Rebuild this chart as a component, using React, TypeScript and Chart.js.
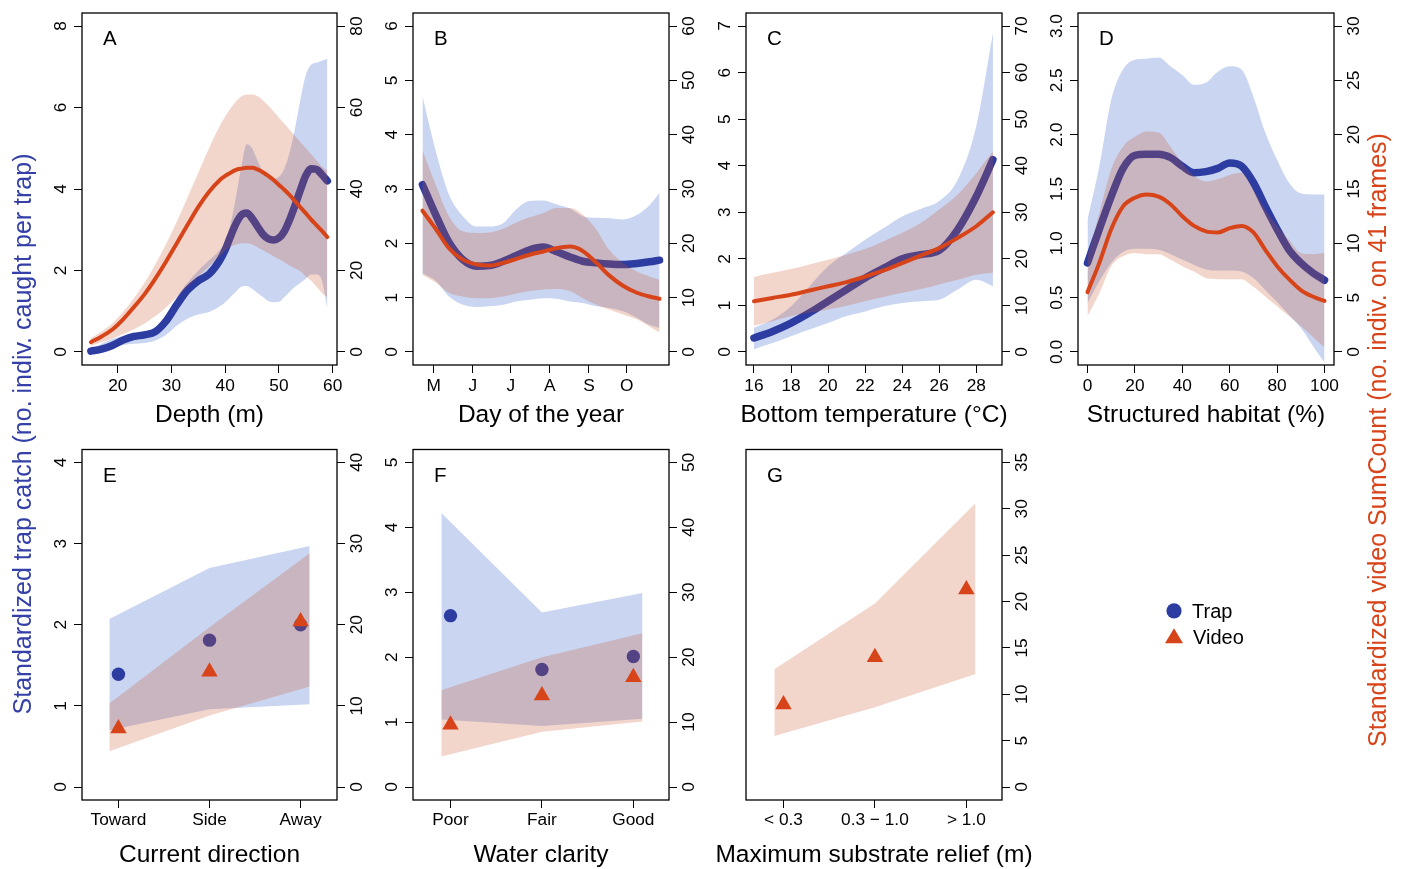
import React, { useEffect, useRef } from 'react';
import { Chart, registerables } from 'chart.js';

Chart.register(...registerables);

const FONT = '"Liberation Sans", Arial, Helvetica, sans-serif';
const TRAP = 'rgb(44,60,160)';
const TRAP_TEXT = 'rgb(52,64,168)';
const TRAP_BAND = 'rgb(201,213,241)';
const VIDEO = 'rgb(216,68,25)';
const VIDEO_BAND = 'rgba(203,87,47,0.25)';
const TICK_SIZE = 17.3;

// ---------- Panel A: depth ----------
const A_depth = [15, 17, 19, 21, 23, 25, 27, 29, 31, 33, 35, 37, 39, 40, 41, 42, 43, 44, 45, 46, 47, 48, 49, 50, 51, 52, 53, 54, 55, 56, 57, 58, 59];
const A_trap = [0.02, 0.07, 0.16, 0.29, 0.38, 0.42, 0.5, 0.76, 1.16, 1.52, 1.75, 1.91, 2.25, 2.51, 2.84, 3.15, 3.36, 3.41, 3.28, 3.08, 2.89, 2.78, 2.75, 2.8, 2.96, 3.25, 3.6, 3.98, 4.33, 4.5, 4.48, 4.35, 4.2];
const A_trapLo = [0.0, 0.06, 0.12, 0.17, 0.2, 0.22, 0.28, 0.42, 0.65, 0.82, 0.92, 0.98, 1.12, 1.22, 1.35, 1.48, 1.6, 1.62, 1.55, 1.45, 1.35, 1.25, 1.22, 1.23, 1.35, 1.48, 1.6, 1.7, 1.8, 1.9, 1.9, 1.75, 1.05];
const A_trapHi = [0.06, 0.2, 0.32, 0.4, 0.45, 0.5, 0.6, 0.9, 1.35, 1.7, 2.0, 2.25, 2.5, 2.72, 3.15, 3.8, 4.55, 5.1, 5.0, 4.7, 4.45, 4.3, 4.25, 4.3, 4.5, 4.9, 5.5, 6.2, 6.8, 7.05, 7.1, 7.15, 7.2];
const A_video = [2.4, 3.8, 5.5, 8.0, 11.0, 14.2, 18.0, 22.2, 26.7, 31.2, 35.6, 39.3, 42.2, 43.2, 44.0, 44.7, 45.0, 45.2, 45.2, 44.8, 44.1, 43.2, 42.2, 41.0, 39.8, 38.5, 37.0, 35.5, 34.0, 32.5, 31.1, 29.7, 28.2];
const A_videoLo = [1.5, 2.4, 3.3, 4.4, 5.6, 7.0, 8.8, 11.0, 13.5, 16.0, 18.5, 21.0, 23.5, 24.8, 25.8, 26.4, 26.7, 26.7, 26.4, 25.7, 25.0, 24.2, 23.5, 22.8, 22.0, 21.2, 20.5, 19.8, 18.5, 17.5, 16.0, 14.5, 13.5];
const A_videoHi = [3.3, 5.0, 7.0, 9.8, 13.2, 17.0, 21.5, 26.5, 32.0, 38.0, 44.0, 50.0, 55.5, 57.8, 59.8, 61.5, 62.7, 63.2, 63.2, 62.8, 61.8, 60.5, 59.0, 57.5, 56.0, 54.5, 53.0, 51.5, 50.0, 48.5, 47.0, 45.5, 44.5];
const A_xTicks = [20, 30, 40, 50, 60];
const A_trapTicks = [0, 2, 4, 6, 8];
const A_videoTicks = [0, 20, 40, 60, 80];

// ---------- Panel B: day of year ----------
const B_day = [112, 123, 133, 144, 155, 165, 176, 186, 197, 208, 218, 229, 239, 250, 260, 271, 282, 292, 300];
const B_trap = [3.08, 2.5, 2.02, 1.7, 1.58, 1.59, 1.67, 1.77, 1.88, 1.93, 1.85, 1.75, 1.67, 1.64, 1.62, 1.61, 1.63, 1.66, 1.69];
const B_trapLo = [1.45, 1.3, 1.02, 0.87, 0.83, 0.84, 0.87, 0.93, 0.96, 0.99, 0.98, 0.93, 0.9, 0.84, 0.81, 0.75, 0.63, 0.5, 0.44];
const B_trapHi = [4.71, 3.66, 2.9, 2.5, 2.31, 2.31, 2.37, 2.62, 2.78, 2.79, 2.72, 2.64, 2.5, 2.47, 2.46, 2.44, 2.52, 2.7, 2.93];
const B_video = [26.0, 22.5, 19.1, 17.0, 16.1, 15.9, 16.4, 17.1, 17.9, 18.5, 19.1, 19.4, 18.6, 16.4, 14.1, 12.2, 10.9, 10.2, 9.8];
const B_videoLo = [14.2, 12.7, 10.9, 10.2, 9.9, 9.9, 10.2, 10.7, 11.2, 11.5, 11.6, 11.2, 9.9, 8.7, 7.8, 6.9, 6.0, 4.7, 3.6];
const B_videoHi = [37.2, 30.5, 25.0, 22.2, 21.9, 22.0, 22.7, 23.8, 24.8, 25.6, 26.5, 26.5, 25.3, 22.5, 18.8, 16.4, 14.8, 13.9, 13.3];
const B_xTicks = [121, 152, 182, 213, 244, 274];
const B_xLabels = ['M', 'J', 'J', 'A', 'S', 'O'];
const B_trapTicks = [0, 1, 2, 3, 4, 5, 6];
const B_videoTicks = [0, 10, 20, 30, 40, 50, 60];

// ---------- Panel C: bottom temperature ----------
const C_temp = [16, 17, 18, 19, 20, 21, 22, 23, 24, 25, 26, 27, 28, 28.9];
const C_trap = [0.3, 0.44, 0.62, 0.84, 1.09, 1.34, 1.59, 1.8, 2.0, 2.09, 2.18, 2.63, 3.34, 4.13];
const C_trapLo = [0.06, 0.19, 0.34, 0.48, 0.62, 0.77, 0.87, 0.98, 1.05, 1.09, 1.12, 1.34, 1.55, 1.41];
const C_trapHi = [0.52, 0.69, 0.98, 1.41, 1.84, 2.13, 2.41, 2.66, 2.91, 3.07, 3.24, 3.7, 4.85, 6.85];
const C_video = [10.9, 11.6, 12.3, 13.2, 14.1, 15.0, 16.2, 17.5, 19.1, 20.7, 22.3, 24.5, 27.0, 30.0];
const C_videoLo = [5.7, 6.6, 7.7, 8.4, 9.1, 9.9, 10.9, 11.8, 12.7, 13.5, 14.5, 15.5, 16.6, 17.0];
const C_videoHi = [16.1, 17.0, 17.8, 18.8, 19.8, 20.9, 22.1, 23.8, 25.6, 27.7, 30.6, 33.8, 38.4, 43.1];
const C_xTicks = [16, 18, 20, 22, 24, 26, 28];
const C_trapTicks = [0, 1, 2, 3, 4, 5, 6, 7];
const C_videoTicks = [0, 10, 20, 30, 40, 50, 60, 70];

// ---------- Panel D: structured habitat ----------
const D_pct = [0, 5, 10, 15, 20, 25, 30, 35, 40, 45, 50, 55, 60, 65, 70, 75, 80, 85, 90, 95, 100];
const D_trap = [0.82, 1.13, 1.43, 1.69, 1.81, 1.82, 1.82, 1.79, 1.71, 1.65, 1.66, 1.69, 1.74, 1.71, 1.56, 1.34, 1.13, 0.94, 0.82, 0.73, 0.66];
const D_trapLo = [0.45, 0.65, 0.82, 0.92, 0.95, 0.95, 0.94, 0.9, 0.85, 0.8, 0.76, 0.75, 0.75, 0.74, 0.68, 0.57, 0.46, 0.34, 0.22, 0.06, -0.1];
const D_trapHi = [1.22, 1.71, 2.32, 2.6, 2.69, 2.7, 2.71, 2.63, 2.55, 2.46, 2.48, 2.58, 2.63, 2.6, 2.35, 2.02, 1.77, 1.56, 1.46, 1.45, 1.45];
const D_video = [5.5, 8.2, 11.3, 13.4, 14.2, 14.5, 14.3, 13.6, 12.5, 11.6, 11.1, 11.0, 11.4, 11.6, 11.0, 9.4, 7.9, 6.7, 5.7, 5.1, 4.7];
const D_videoLo = [3.3, 5.4, 7.9, 8.8, 9.1, 9.0, 9.0, 8.5, 7.9, 7.4, 6.8, 6.7, 6.7, 6.7, 6.0, 5.1, 4.2, 3.3, 2.4, 1.4, 0.4];
const D_videoHi = [8.8, 12.8, 16.8, 18.9, 19.8, 20.3, 20.2, 18.9, 17.4, 16.2, 15.7, 15.9, 16.3, 16.5, 14.9, 13.1, 11.6, 10.3, 9.1, 9.0, 9.1];
const D_xTicks = [0, 20, 40, 60, 80, 100];
const D_trapTicks = [0, 0.5, 1, 1.5, 2, 2.5, 3];
const D_trapLabels = ['0.0', '0.5', '1.0', '1.5', '2.0', '2.5', '3.0'];
const D_videoTicks = [0, 5, 10, 15, 20, 25, 30];

// ---------- Categorical panels ----------
const CAT_X = [0, 1, 2];
const BAND_X = [-0.1, 1, 2.1];

const E_labels = ['Toward', 'Side', 'Away'];
const E_trap = [1.39, 1.81, 2.0];
const E_trapLo = [0.7, 0.96, 1.02];
const E_trapHi = [2.07, 2.7, 2.97];
const E_video = [7.2, 14.2, 20.4];
const E_videoLo = [4.4, 8.8, 12.4];
const E_videoHi = [10.3, 19.7, 28.8];
const E_trapTicks = [0, 1, 2, 3, 4];
const E_videoTicks = [0, 10, 20, 30, 40];

const F_labels = ['Poor', 'Fair', 'Good'];
const F_trap = [2.64, 1.81, 2.01];
const F_trapLo = [1.04, 0.94, 1.05];
const F_trapHi = [4.22, 2.69, 2.99];
const F_video = [9.6, 14.1, 16.9];
const F_videoLo = [4.7, 8.5, 10.1];
const F_videoHi = [14.9, 20.0, 23.7];
const F_trapTicks = [0, 1, 2, 3, 4, 5];
const F_videoTicks = [0, 10, 20, 30, 40, 50];

const G_labels = ['< 0.3', '0.3 \u2212 1.0', '> 1.0'];
const G_video = [8.9, 14.0, 21.3];
const G_videoLo = [5.5, 8.6, 12.2];
const G_videoHi = [12.7, 19.8, 30.6];
const G_videoTicks = [0, 5, 10, 15, 20, 25, 30, 35];

// ---------- dataset builders ----------
function toPts(xs: number[], ys: number[]) {
  return xs.map((x, i) => ({ x, y: ys[i] }));
}

function bandPair(xs: number[], lo: number[], hi: number[], color: string, axis: string, order: number, smooth: boolean) {
  const base: any = {
    pointRadius: 0,
    borderWidth: 0,
    borderColor: 'rgba(0,0,0,0)',
    yAxisID: axis,
    order,
  };
  if (smooth) base.cubicInterpolationMode = 'monotone';
  return [
    { ...base, data: toPts(xs, lo), fill: false },
    { ...base, data: toPts(xs, hi), fill: '-1', backgroundColor: color },
  ];
}

function curveSets(xs: number[], trap: number[], trapLo: number[], trapHi: number[], video: number[], videoLo: number[], videoHi: number[]) {
  return [
    ...bandPair(xs, trapLo, trapHi, TRAP_BAND, 'y', 5, true),
    {
      data: toPts(xs, trap), yAxisID: 'y', order: 4, fill: false, pointRadius: 0,
      borderColor: TRAP, borderWidth: 7.5, borderCapStyle: 'round', borderJoinStyle: 'round',
      cubicInterpolationMode: 'monotone',
    },
    ...bandPair(xs, videoLo, videoHi, VIDEO_BAND, 'y2', 3, true),
    {
      data: toPts(xs, video), yAxisID: 'y2', order: 1, fill: false, pointRadius: 0,
      borderColor: VIDEO, borderWidth: 4, borderCapStyle: 'round', borderJoinStyle: 'round',
      cubicInterpolationMode: 'monotone',
    },
  ];
}

function catSets(trap: number[] | null, trapLo: number[] | null, trapHi: number[] | null, video: number[], videoLo: number[], videoHi: number[]) {
  const sets: any[] = [];
  if (trap && trapLo && trapHi) {
    sets.push(...bandPair(BAND_X, trapLo, trapHi, TRAP_BAND, 'y', 5, false));
    sets.push({
      data: toPts(CAT_X, trap), yAxisID: 'y', order: 4, showLine: false,
      pointStyle: 'circle', pointRadius: 6.7, pointBackgroundColor: TRAP, pointBorderWidth: 0,
      borderColor: TRAP,
    });
  }
  sets.push(...bandPair(BAND_X, videoLo, videoHi, VIDEO_BAND, 'y2', 3, false));
  sets.push({
    data: toPts(CAT_X, video), yAxisID: 'y2', order: 1, showLine: false,
    pointStyle: 'triangle', pointRadius: 9.5, pointBackgroundColor: VIDEO, pointBorderWidth: 0,
    borderColor: VIDEO,
  });
  return sets;
}

// ---------- panel specs ----------
type Spec = any;

const ROW1 = { cy: 0, ch: 440, T: 13, B: 365, titleY: 421.5, xPad: 2.5 };
const ROW2 = { cy: 440, ch: 429, T: 448, B: 800, titleY: 862, xPad: 1.5 };
const COL1 = { cx: 40, cw: 336, L: 82, R: 337 };
const COL2 = { cx: 376, cw: 332, L: 413, R: 669 };
const COL3 = { cx: 708, cw: 332, L: 746, R: 1002 };
const COL4 = { cx: 1040, cw: 332, L: 1078, R: 1334 };

const SPECS: Spec[] = [
  {
    ...ROW1, ...COL1, letter: 'A', xTitle: 'Depth (m)',
    xMin: 13.35, xMax: 60.8, xTicks: A_xTicks, xLabels: A_xTicks.map(String),
    yMin: -0.32, yMax: 8.32, leftTicks: A_trapTicks, leftLabels: A_trapTicks.map(String),
    rightTicks: A_videoTicks, rightLabels: A_videoTicks.map(String),
    datasets: curveSets(A_depth, A_trap, A_trapLo, A_trapHi, A_video, A_videoLo, A_videoHi),
  },
  {
    ...ROW1, ...COL2, letter: 'B', xTitle: 'Day of the year',
    xMin: 104.5, xMax: 307.5, xTicks: B_xTicks, xLabels: B_xLabels,
    yMin: -0.24, yMax: 6.24, leftTicks: B_trapTicks, leftLabels: B_trapTicks.map(String),
    rightTicks: B_videoTicks, rightLabels: B_videoTicks.map(String),
    datasets: curveSets(B_day, B_trap, B_trapLo, B_trapHi, B_video, B_videoLo, B_videoHi),
  },
  {
    ...ROW1, ...COL3, letter: 'C', xTitle: 'Bottom temperature (\u00B0C)',
    xMin: 15.57, xMax: 29.39, xTicks: C_xTicks, xLabels: C_xTicks.map(String),
    yMin: -0.28, yMax: 7.28, leftTicks: C_trapTicks, leftLabels: C_trapTicks.map(String),
    rightTicks: C_videoTicks, rightLabels: C_videoTicks.map(String),
    datasets: curveSets(C_temp, C_trap, C_trapLo, C_trapHi, C_video, C_videoLo, C_videoHi),
  },
  {
    ...ROW1, ...COL4, letter: 'D', xTitle: 'Structured habitat (%)',
    xMin: -4, xMax: 104, xTicks: D_xTicks, xLabels: D_xTicks.map(String),
    yMin: -0.12, yMax: 3.12, leftTicks: D_trapTicks, leftLabels: D_trapLabels,
    rightTicks: D_videoTicks, rightLabels: D_videoTicks.map(String),
    datasets: curveSets(D_pct, D_trap, D_trapLo, D_trapHi, D_video, D_videoLo, D_videoHi),
  },
  {
    ...ROW2, ...COL1, letter: 'E', xTitle: 'Current direction',
    xMin: -0.4, xMax: 2.4, xTicks: CAT_X, xLabels: E_labels,
    yMin: -0.16, yMax: 4.16, leftTicks: E_trapTicks, leftLabels: E_trapTicks.map(String),
    rightTicks: E_videoTicks, rightLabels: E_videoTicks.map(String),
    datasets: catSets(E_trap, E_trapLo, E_trapHi, E_video, E_videoLo, E_videoHi),
  },
  {
    ...ROW2, ...COL2, letter: 'F', xTitle: 'Water clarity',
    xMin: -0.41, xMax: 2.39, xTicks: CAT_X, xLabels: F_labels,
    yMin: -0.2, yMax: 5.2, leftTicks: F_trapTicks, leftLabels: F_trapTicks.map(String),
    rightTicks: F_videoTicks, rightLabels: F_videoTicks.map(String),
    datasets: catSets(F_trap, F_trapLo, F_trapHi, F_video, F_videoLo, F_videoHi),
  },
  {
    ...ROW2, ...COL3, letter: 'G', xTitle: 'Maximum substrate relief (m)',
    xMin: -0.41, xMax: 2.39, xTicks: CAT_X, xLabels: G_labels,
    yMin: -0.14, yMax: 3.64, leftTicks: null, leftLabels: null, y2Min: -1.4, y2Max: 36.4,
    rightTicks: G_videoTicks, rightLabels: G_videoTicks.map(String),
    datasets: catSets(null, null, null, G_video, G_videoLo, G_videoHi),
  },
];

function makePlugin(spec: Spec) {
  return {
    id: 'rstyle' + spec.letter,
    afterDraw(chart: any) {
      const { ctx, chartArea: ca } = chart;
      ctx.save();
      ctx.strokeStyle = '#000';
      ctx.lineWidth = 1.3;
      ctx.strokeRect(ca.left, ca.top, ca.right - ca.left, ca.bottom - ca.top);
      ctx.fillStyle = '#000';
      ctx.textAlign = 'left';
      ctx.textBaseline = 'middle';
      ctx.font = `20.5px ${FONT}`;
      ctx.fillText(spec.letter, ca.left + 21, ca.top + 26.5);

      ctx.font = `${TICK_SIZE}px ${FONT}`;
      ctx.textAlign = 'center';
      const drawY = (scale: any, ticks: number[], labels: string[], x: number) => {
        ticks.forEach((v, i) => {
          const py = scale.getPixelForValue(v);
          ctx.save();
          ctx.translate(x, py);
          ctx.rotate(-Math.PI / 2);
          ctx.fillText(labels[i], 0, 0);
          ctx.restore();
        });
      };
      if (spec.leftTicks) drawY(chart.scales.y, spec.leftTicks, spec.leftLabels, ca.left - 20.3);
      drawY(chart.scales.y2, spec.rightTicks, spec.rightLabels, ca.right + 20.3);

      ctx.font = `24.5px ${FONT}`;
      ctx.textBaseline = 'alphabetic';
      ctx.fillText(spec.xTitle, (ca.left + ca.right) / 2, spec.titleY - spec.cy);
      ctx.restore();
    },
  };
}

function buildConfig(spec: Spec): any {
  const padTop = spec.T - spec.cy;
  const leftW = spec.L - spec.cx;
  const rightW = spec.cx + spec.cw - spec.R;
  const bottomH = spec.cy + spec.ch - spec.B;
  const fixY = (w: number) => (s: any) => { s.width = w; s.paddingTop = 0; s.paddingBottom = 0; };
  const setTicks = (vals: number[]) => (s: any) => { s.ticks = vals.map((v) => ({ value: v })); };
  const tickGrid = { display: true, drawOnChartArea: false, drawTicks: true, tickLength: 8, color: '#000', lineWidth: 1 };
  const y2Min = spec.y2Min !== undefined ? spec.y2Min : spec.yMin * 10;
  const y2Max = spec.y2Max !== undefined ? spec.y2Max : spec.yMax * 10;
  return {
    type: 'line',
    data: { datasets: spec.datasets },
    options: {
      responsive: false,
      maintainAspectRatio: false,
      animation: false,
      events: [],
      layout: { padding: { top: padTop, left: 0, right: 0, bottom: 0 } },
      plugins: { legend: { display: false }, tooltip: { enabled: false }, title: { display: false } },
      scales: {
        x: {
          type: 'linear', position: 'bottom', min: spec.xMin, max: spec.xMax,
          afterBuildTicks: setTicks(spec.xTicks),
          afterFit: (s: any) => { s.height = bottomH; s.paddingLeft = 0; s.paddingRight = 0; },
          grid: tickGrid,
          border: { display: false },
          ticks: {
            autoSkip: false, maxRotation: 0, minRotation: 0, padding: spec.xPad, color: '#000',
            font: { family: FONT, size: TICK_SIZE },
            callback: (_v: any, i: number) => spec.xLabels[i],
          },
        },
        y: {
          type: 'linear', position: 'left', min: spec.yMin, max: spec.yMax,
          afterBuildTicks: setTicks(spec.leftTicks || []),
          afterFit: fixY(leftW),
          grid: spec.leftTicks ? tickGrid : { display: false },
          border: { display: false },
          ticks: { display: false },
        },
        y2: {
          type: 'linear', position: 'right', min: y2Min, max: y2Max,
          afterBuildTicks: setTicks(spec.rightTicks),
          afterFit: fixY(rightW),
          grid: tickGrid,
          border: { display: false },
          ticks: { display: false },
        },
      },
    },
    plugins: [makePlugin(spec)],
  };
}

function Panel({ spec }: { spec: Spec }) {
  const ref = useRef<HTMLCanvasElement | null>(null);
  useEffect(() => {
    if (!ref.current) return;
    const chart = new Chart(ref.current, buildConfig(spec));
    return () => chart.destroy();
  }, [spec]);
  return (
    <canvas
      ref={ref}
      width={spec.cw}
      height={spec.ch}
      style={{ position: 'absolute', left: spec.cx, top: spec.cy, width: spec.cw, height: spec.ch }}
    />
  );
}

export default function App() {
  return (
    <div style={{ position: 'absolute', left: 0, top: 0, width: 1402, height: 869, background: '#fff', overflow: 'hidden' }}>
      {SPECS.map((s) => (
        <Panel key={s.letter} spec={s} />
      ))}
      <svg width={1402} height={869} style={{ position: 'absolute', left: 0, top: 0, pointerEvents: 'none' }}>
        <text
          transform="translate(31,434) rotate(-90)"
          textAnchor="middle"
          fontFamily={FONT}
          fontSize={25}
          fill={TRAP_TEXT}
        >
          Standardized trap catch (no. indiv. caught per trap)
        </text>
        <text
          transform="translate(1386,440) rotate(-90)"
          textAnchor="middle"
          fontFamily={FONT}
          fontSize={25}
          fill={VIDEO}
        >
          Standardized video SumCount (no. indiv. on 41 frames)
        </text>
        <circle cx={1174} cy={610.8} r={7.6} fill={TRAP} />
        <polygon points="1165,643.3 1183,643.3 1174,628.3" fill={VIDEO} />
        <text x={1192} y={617.7} fontFamily={FONT} fontSize={20} fill="#000">Trap</text>
        <text x={1193} y={644} fontFamily={FONT} fontSize={20} fill="#000">Video</text>
      </svg>
    </div>
  );
}
